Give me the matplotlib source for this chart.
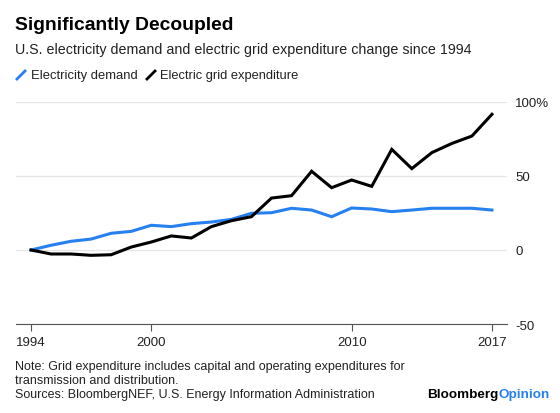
import matplotlib.pyplot as plt
from matplotlib.lines import Line2D

plt.rcParams['font.family'] = ['Liberation Sans', 'DejaVu Sans']

years = list(range(1994, 2018))
demand = [0, 3.2, 5.9, 7.4, 11.3, 12.6, 16.7, 15.8, 17.8, 18.9, 20.7, 24.8,
          25.2, 28.2, 27.0, 22.5, 28.4, 27.7, 25.9, 27.0, 28.2, 28.2, 28.2, 27.0]
grid_spend = [0, -2.7, -2.7, -3.6, -3.2, 2.0, 5.4, 9.5, 8.1, 15.8, 19.8, 22.5,
              35.1, 36.7, 53.2, 42.1, 47.3, 43.0, 68.0, 55.0, 65.8, 72.0, 77.0, 91.7]
xticks = [1994, 2000, 2010, 2017]
yticks = [-50, 0, 50, 100]
ylabels = ['-50', '0', '50', '100%']

blue = '#2680f0'
W, H = 560, 414

fig = plt.figure(figsize=(5.6, 4.14), dpi=100)
ax = fig.add_axes([16/W, 1-325/H, (507-16)/W, (325-103)/H])

ax.plot(years, demand, color=blue, lw=2.2, solid_joinstyle='miter', zorder=3)
ax.plot(years, grid_spend, color='black', lw=2.2, solid_joinstyle='miter', zorder=4)

ax.set_xlim(1993.25, 2017.75)
ax.set_ylim(-50, 100)
ax.set_xticks(xticks)
ax.set_xticklabels([str(y) for y in xticks], fontsize=9.5, color='#222222')
ax.set_yticks(yticks)
ax.set_yticklabels(ylabels, fontsize=9.5, color='#222222')
ax.yaxis.tick_right()
ax.tick_params(axis='y', length=0, pad=6)
ax.tick_params(axis='x', length=5, width=0.8, color='#555555', pad=4, direction='out')
for lbl in ax.get_yticklabels():
    lbl.set_horizontalalignment('left')
ax.grid(axis='y', color='#e6e6e6', lw=0.9, zorder=0)
for s in ['top', 'right', 'left']:
    ax.spines[s].set_visible(False)
ax.spines['bottom'].set_color('#555555')
ax.spines['bottom'].set_linewidth(0.8)

# header
fig.text(15/W, 1-25/H, 'Significantly Decoupled', fontsize=13.9, fontweight='bold',
         va='center', ha='left')
fig.text(15/W, 1-50/H, 'U.S. electricity demand and electric grid expenditure change since 1994',
         fontsize=10.3, va='center', ha='left', color='#222222')

# legend
fig.add_artist(Line2D([17/W, 25/W], [1-80/H, 1-72/H], color=blue, lw=2))
fig.text(31/W, 1-76/H, 'Electricity demand', fontsize=9.4, va='center', color='#222222')
fig.add_artist(Line2D([147/W, 155/W], [1-80/H, 1-72/H], color='black', lw=2))
fig.text(160/W, 1-76/H, 'Electric grid expenditure', fontsize=9.3, va='center', color='#222222')

# footer
fig.text(15/W, 1-367/H, 'Note: Grid expenditure includes capital and operating expenditures for',
         fontsize=9, va='center', color='#222222')
fig.text(15/W, 1-381/H, 'transmission and distribution.',
         fontsize=9, va='center', color='#222222')
fig.text(15/W, 1-395/H, 'Sources: BloombergNEF, U.S. Energy Information Administration',
         fontsize=9, va='center', color='#222222')
t = fig.text(427/W, 1-395/H, 'Bloomberg', fontsize=9.7, fontweight='bold',
             va='center', color='black')
fig.canvas.draw()
bb = t.get_window_extent()
fig.text(bb.x1 / fig.bbox.width, 1-395/H, 'Opinion', fontsize=9.7, fontweight='bold',
         va='center', color=blue)

fig.savefig('out.png', dpi=100)
